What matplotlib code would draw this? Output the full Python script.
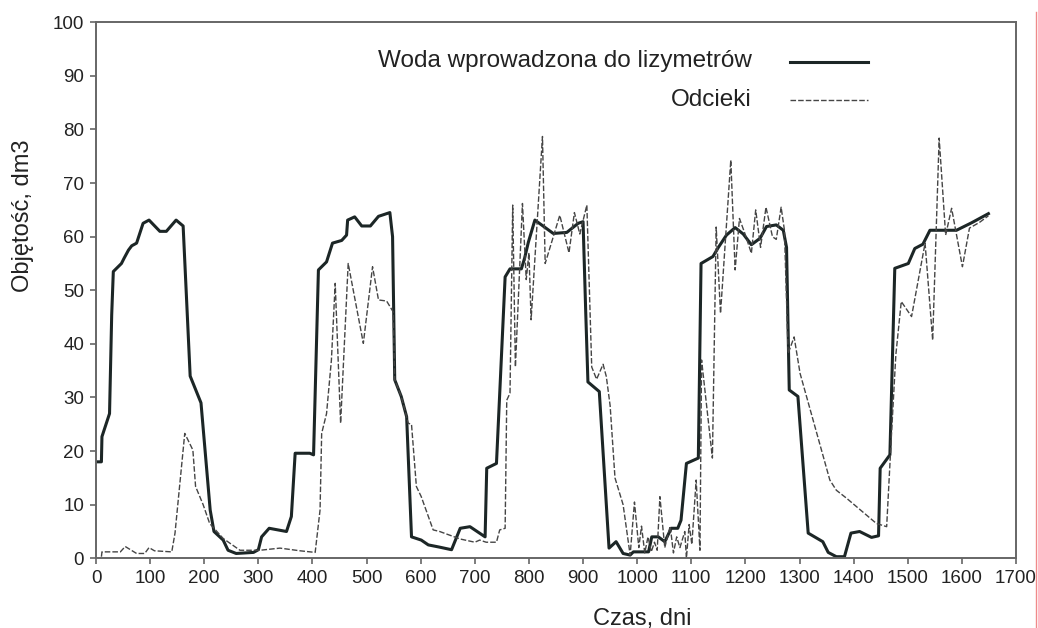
import matplotlib
matplotlib.use("Agg")
import matplotlib.pyplot as plt
from matplotlib.lines import Line2D
from matplotlib.ticker import MultipleLocator

plt.rcParams['font.family'] = ['Liberation Sans', 'DejaVu Sans']

# woda wprowadzona do lizymetrow (dzien, dm3)
woda_t = [0, 10, 11, 25, 29, 32, 47, 52, 60, 66, 75, 87, 98, 118, 130, 148, 161,
          174, 194, 211, 218, 235, 244, 259, 291, 300, 306, 320, 352, 361, 368,
          395, 402, 411, 426, 437, 454, 463, 465, 478, 491, 507, 522, 543, 548,
          552, 564, 574, 583, 601, 614, 634, 657, 673, 691, 719, 722, 740, 756,
          765, 786, 792, 799, 811, 826, 845, 870, 891, 900, 905, 909, 930, 948,
          961, 974, 987, 993, 1021, 1027, 1039, 1051, 1063, 1075, 1081, 1091,
          1113, 1118, 1140, 1150, 1165, 1181, 1196, 1211, 1227, 1239, 1257, 1270,
          1276, 1281, 1297, 1316, 1343, 1353, 1368, 1383, 1395, 1411, 1433, 1446,
          1449, 1467, 1476, 1501, 1513, 1528, 1541, 1590, 1618, 1649]
woda_v = [18, 18, 22.7, 27, 45.4, 53.5, 55, 56, 57.5, 58.3, 58.8, 62.5, 63.1, 61,
          61, 63.1, 62, 34, 29, 9, 5, 3.4, 1.5, 0.9, 1.1, 1.6, 4, 5.6, 5, 7.8,
          19.6, 19.6, 19.3, 53.8, 55.3, 58.8, 59.3, 60.3, 63.1, 63.7, 62, 62,
          63.8, 64.5, 60, 33.3, 30.2, 26.4, 4, 3.4, 2.5, 2.1, 1.6, 5.6, 5.9, 4,
          16.8, 17.7, 52.5, 54, 54, 56, 59, 63.1, 62, 60.6, 60.8, 62.5, 62.8,
          45.7, 32.9, 31.1, 1.9, 3.1, 0.9, 0.6, 1.2, 1.2, 4, 4, 3.1, 5.6, 5.6,
          7.1, 17.7, 18.7, 55, 56.3, 58, 60.3, 61.7, 60.5, 58.5, 59.7, 61.9,
          62.2, 61.2, 58, 31.4, 30.2, 4.7, 3.1, 1.1, 0.3, 0.3, 4.7, 5, 3.9, 4.2,
          16.8, 19.3, 54.1, 55, 57.8, 58.6, 61.2, 61.2, 62.6, 64.3]

# odcieki (dzien, dm3)
odc_t = [10, 11, 45, 54, 75, 90, 98, 108, 140, 146, 164, 179, 184, 198, 210,
         235, 266, 303, 340, 377, 405, 414, 417, 426, 435, 442, 452, 466, 494,
         511, 522, 537, 549, 552, 564, 577, 583, 592, 601, 623, 635, 673, 700,
         709, 721, 740, 746, 756, 759, 765, 770, 775, 788, 795, 800, 804, 825,
         830, 857, 874, 884, 894, 907, 916, 925, 937, 943, 950, 959, 974, 987,
         995, 1003, 1008, 1014, 1020, 1026, 1032, 1037, 1042, 1051, 1061, 1067,
         1073, 1079, 1088, 1091, 1096, 1101, 1109, 1116, 1119, 1139, 1146, 1154,
         1173, 1181, 1189, 1199, 1211, 1219, 1228, 1238, 1250, 1257, 1266, 1272,
         1279, 1290, 1301, 1356, 1368, 1387, 1442, 1461, 1470, 1478, 1488, 1507,
         1532, 1546, 1558, 1570, 1581, 1601, 1614, 1633, 1649]
odc_v = [0.3, 1.2, 1.2, 2.2, 0.9, 0.9, 2.0, 1.4, 1.2, 4.7, 23.3, 20.2, 13.4, 10,
         6.5, 3.7, 1.5, 1.5, 1.9, 1.4, 1.1, 9, 23.3, 27, 37, 51.3, 25.2, 55,
         40.1, 54.4, 48.2, 48, 46, 33.3, 30.2, 25.2, 25, 13.4, 11.5, 5.3, 5,
         3.6, 3, 3.4, 3, 3, 5.3, 5.6, 29.5, 30.8, 65.9, 35.7, 66.2, 52, 57,
         44.5, 78.7, 55, 64, 57, 64.5, 60.5, 65.9, 35.7, 33.4, 36.2, 33.9, 28.5,
         15, 10, 0.6, 10.5, 2, 6, 1, 4, 1.2, 3, 1.5, 11.5, 2, 6, 1, 4, 2, 5, 0,
         6.3, 2.6, 14.6, 1.5, 37, 18.7, 61.8, 45.7, 74.3, 53.8, 63.4, 60.6, 56.9,
         65, 58, 65.5, 60, 59.5, 65.5, 61.3, 38.2, 41.3, 34.5, 14.6, 12.7, 11.2,
         6.5, 5.9, 23.3, 38, 47.9, 45.1, 58.8, 40.7, 78.4, 60.3, 65.3, 54.4,
         61.6, 62.7, 63.9]

labels = ['Woda wprowadzona do lizymetrów', 'Odcieki']

line_col = '#1c2626'
dash_col = '#454545'
frame_col = '#666666'
text_col = '#222222'

fig = plt.figure(figsize=(10.38, 6.28), dpi=100)
ax = fig.add_axes([96 / 1038, 1 - 558.3 / 628, 920 / 1038, 536 / 628])

ax.plot(woda_t, woda_v, color=line_col, linewidth=2.2, solid_joinstyle='round')
ax.plot(odc_t, odc_v, color=dash_col, linewidth=1.0, dashes=(4, 1.5))

ax.set_xlim(0, 1700)
ax.set_ylim(0, 100)
ax.xaxis.set_major_locator(MultipleLocator(100))
ax.yaxis.set_major_locator(MultipleLocator(10))
ax.tick_params(direction='out', length=4.5, width=1.2, color=frame_col,
               labelsize=13.5, labelcolor=text_col, pad=4)
for s in ax.spines.values():
    s.set_color(frame_col)
    s.set_linewidth(1.4)

# legenda: opis z prawej strony wyrownany do prawej, probka linii obok
ax.text(0.713, 0.928, labels[0], transform=ax.transAxes, ha='right',
        va='center', fontsize=17.5, color=text_col)
ax.text(0.713, 0.855, labels[1], transform=ax.transAxes, ha='right',
        va='center', fontsize=17.5, color=text_col)
ax.add_line(Line2D([0.754, 0.839], [0.926, 0.926], transform=ax.transAxes,
                   color=line_col, linewidth=2.2))
ax.add_line(Line2D([0.754, 0.839], [0.855, 0.855], transform=ax.transAxes,
                   color=dash_col, linewidth=1.0, dashes=(4, 1.5)))

fig.text(23 / 1038, 1 - 216 / 628, 'Objętość, dm3', rotation=90, ha='center',
         va='center', fontsize=17, color=text_col)
fig.text(642 / 1038, 1 - 625 / 628, 'Czas, dni', ha='center', va='baseline',
         fontsize=17, color=text_col)

# pionowa kreska przy prawej krawedzi
fig.add_artist(Line2D([1036 / 1038, 1036 / 1038], [0, 1 - 12 / 628],
                      transform=fig.transFigure, color='#f08a8a', linewidth=1.0))

fig.savefig('out.png', dpi=100)
